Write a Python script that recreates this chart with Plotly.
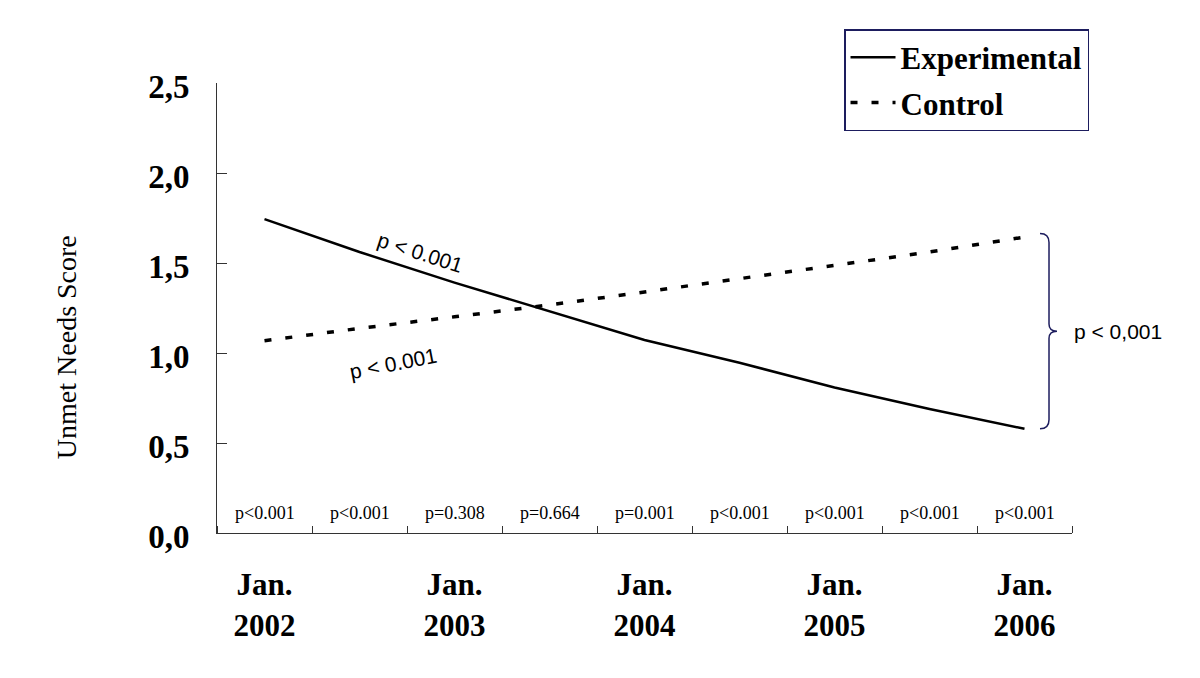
import plotly.graph_objects as go

# half-year measurement points, Jan 2002 .. Jan 2006
periods = list(range(9))
year_labels = ['Jan.<br>2002', 'Jan.<br>2003', 'Jan.<br>2004', 'Jan.<br>2005', 'Jan.<br>2006']
year_pos = [0, 2, 4, 6, 8]

experimental = [1.744, 1.561, 1.391, 1.231, 1.072, 0.946, 0.808, 0.689, 0.579]
control = [1.068, 1.137, 1.201, 1.267, 1.339, 1.413, 1.486, 1.561, 1.644]
p_between = ['p<0.001', 'p<0.001', 'p=0.308', 'p=0.664', 'p=0.001',
             'p<0.001', 'p<0.001', 'p<0.001', 'p<0.001']

SERIF = 'Liberation Serif, Times New Roman, serif'
SANS = 'Liberation Sans, Arial, sans-serif'
NAVY = '#1d1d5e'

fig = go.Figure()
fig.add_trace(go.Scatter(x=periods, y=experimental, mode='lines', name='Experimental',
                         legendgroup='e', line=dict(color='black', width=2.5)))
fig.add_trace(go.Scatter(x=periods, y=control, mode='lines', name='Control',
                         legendgroup='c', line=dict(color='black', width=3.5, dash='7px,14px')))

# p-values between groups at each time point
for i, t in enumerate(p_between):
    fig.add_annotation(x=periods[i], y=0.11, text=t, showarrow=False,
                       font=dict(family=SERIF, size=18, color='black'))

# slope p-values
fig.add_annotation(x=1.64, y=1.556, text='p < 0.001', textangle=18, showarrow=False,
                   font=dict(family=SANS, size=21, color='black'))
fig.add_annotation(x=1.35, y=0.944, text='p < 0.001', textangle=-11, showarrow=False,
                   font=dict(family=SANS, size=21, color='black'))

# brace between end points
top = control[-1] + 0.02
bot = experimental[-1]
mid = (top + bot) / 2
x0, x1, x2 = 8.163, 8.258, 8.342
path = (f'M {x0},{top} Q {x1},{top} {x1},{top - 0.05} '
        f'L {x1},{mid + 0.04} Q {x1},{mid} {x2},{mid} '
        f'Q {x1},{mid} {x1},{mid - 0.04} '
        f'L {x1},{bot + 0.05} Q {x1},{bot} {x0},{bot}')
fig.add_shape(type='path', path=path, xref='x', yref='y', line=dict(color=NAVY, width=1.5))
fig.add_annotation(x=1.054, xref='paper', xanchor='center', y=mid, yref='y',
                   text='p < 0,001', showarrow=False,
                   font=dict(family=SANS, size=21, color='black'))

# y axis title
fig.add_annotation(x=-0.1766, y=0.413, xref='paper', yref='paper', xanchor='center',
                   yanchor='middle', text='Unmet Needs Score',
                   textangle=-90, showarrow=False,
                   font=dict(family=SERIF, size=28, color='black'))

fig.update_layout(
    width=1200, height=678,
    margin=dict(l=209, r=136, t=75, b=153),
    plot_bgcolor='white', paper_bgcolor='white',
    separators=',.',
    showlegend=True,
    legend=dict(x=1.0199, y=1.12, xanchor='right', yanchor='top',
                bgcolor='white', bordercolor=NAVY, borderwidth=1.5,
                traceorder='grouped', tracegroupgap=2, itemwidth=45,
                font=dict(family=SERIF, size=31, color='black', weight='bold')),
    hovermode=False,
)
fig.update_xaxes(range=[-0.5, 8.5], showgrid=False, zeroline=False, automargin=False,
                 showline=True, linecolor='#333333', linewidth=1,
                 tickmode='array', tickvals=year_pos, ticktext=year_labels,
                 ticks='', ticklabelstandoff=24,
                 tickfont=dict(family=SERIF, size=31, color='black', weight='bold'),
                 minor=dict(tickmode='linear', tick0=0.5, dtick=1, ticks='inside',
                            ticklen=7, tickcolor='#333333', tickwidth=1))
fig.update_yaxes(range=[0, 2.5], showgrid=False, zeroline=False, automargin=False,
                 showline=True, linecolor='#333333', linewidth=1,
                 tickmode='array', tickvals=[0, 0.5, 1, 1.5, 2, 2.5], tickformat='.1f',
                 ticks='inside', ticklen=10, tickcolor='#333333',
                 ticklabelstandoff=20, ticklabelshift=3,
                 tickfont=dict(family=SERIF, size=33, color='black', weight='bold'))

fig.write_html('out.html')
